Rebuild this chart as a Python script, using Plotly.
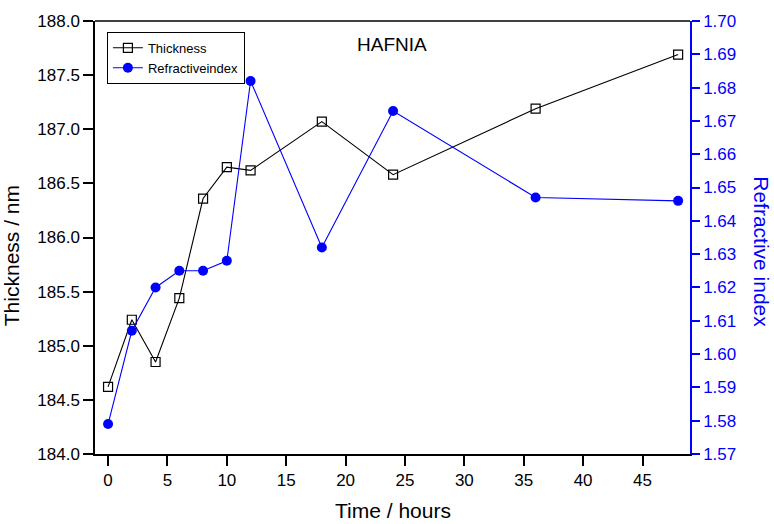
import plotly.graph_objects as go

# Hafnia film evolution over time
time_h = [0, 2, 4, 6, 8, 10, 12, 18, 24, 36, 48]
thickness_nm = [184.62, 185.24, 184.85, 185.44, 186.36, 186.65, 186.62, 187.07, 186.58, 187.19, 187.69]
refractive_index = [1.579, 1.607, 1.620, 1.625, 1.625, 1.628, 1.682, 1.632, 1.673, 1.647, 1.646]

x_ticks = [0, 5, 10, 15, 20, 25, 30, 35, 40, 45]
left_ticks = [184.0, 184.5, 185.0, 185.5, 186.0, 186.5, 187.0, 187.5, 188.0]
right_ticks = [1.57, 1.58, 1.59, 1.60, 1.61, 1.62, 1.63, 1.64, 1.65, 1.66, 1.67, 1.68, 1.69, 1.70]

FONT = "Liberation Sans, Arial, sans-serif"
BLUE = "#0000ff"
TICK_SIZE = 17
TITLE_SIZE = 21

fig = go.Figure()

fig.add_trace(go.Scatter(
    x=time_h, y=thickness_nm, name="Thickness",
    mode="lines+markers",
    line=dict(color="black", width=1.1),
    marker=dict(symbol="square-open", size=9, color="black", line=dict(width=1.2)),
    yaxis="y",
))

fig.add_trace(go.Scatter(
    x=time_h, y=refractive_index, name="Refractiveindex",
    mode="lines+markers",
    line=dict(color=BLUE, width=1.1),
    marker=dict(symbol="circle", size=10, color=BLUE),
    yaxis="y2",
))

fig.update_layout(
    width=774, height=524,
    margin=dict(l=95, r=84, t=16, b=70),
    paper_bgcolor="white", plot_bgcolor="white",
    font=dict(family=FONT, size=14, color="black"),
    showlegend=True,
    legend=dict(
        x=0.02, y=0.975, xanchor="left", yanchor="top",
        bgcolor="white", bordercolor="black", borderwidth=1,
        font=dict(family=FONT, size=13),
        tracegroupgap=0, itemwidth=30,
    ),
    xaxis=dict(
        range=[-1.1, 49.0],
        tickvals=x_ticks, ticktext=[str(v) for v in x_ticks],
        ticks="outside", ticklen=10, tickwidth=1.5, tickcolor="black",
        showline=True, linecolor="black", linewidth=1.5,
        showgrid=False, zeroline=False,
        tickfont=dict(family=FONT, size=TICK_SIZE),
    ),
    yaxis=dict(
        range=[184.0, 188.0],
        tickvals=left_ticks, ticktext=[f"{v:.1f}" for v in left_ticks],
        ticks="outside", ticklen=10, tickwidth=1.5, tickcolor="black",
        showline=True, linecolor="black", linewidth=1.5,
        showgrid=False, zeroline=False,
        tickfont=dict(family=FONT, size=TICK_SIZE),
    ),
    yaxis2=dict(
        range=[1.57, 1.70],
        overlaying="y", side="right",
        tickvals=right_ticks, ticktext=[f"{v:.2f}" for v in right_ticks],
        ticks="outside", ticklen=8, tickwidth=1.5, tickcolor=BLUE,
        showline=True, linecolor=BLUE, linewidth=1.5,
        showgrid=False, zeroline=False,
        tickfont=dict(family=FONT, size=TICK_SIZE, color=BLUE),
    ),
    shapes=[
        # top border of the frame
        dict(type="line", xref="paper", yref="paper", x0=0, x1=1, y0=1, y1=1,
             line=dict(color="black", width=1.5)),
    ],
    annotations=[
        dict(text="HAFNIA", xref="paper", yref="paper", x=0.499, y=0.945,
             xanchor="center", yanchor="middle", showarrow=False,
             font=dict(family=FONT, size=19)),
        dict(text="Time / hours", xref="paper", yref="paper", x=0.501, y=-0.130,
             xanchor="center", yanchor="middle", showarrow=False,
             font=dict(family=FONT, size=TITLE_SIZE)),
        dict(text="Thickness / nm", xref="paper", yref="paper", x=-0.141, y=0.457,
             xanchor="center", yanchor="middle", showarrow=False, textangle=-90,
             font=dict(family=FONT, size=TITLE_SIZE)),
        dict(text="Refractive index", xref="paper", yref="paper", x=1.121, y=0.466,
             xanchor="center", yanchor="middle", showarrow=False, textangle=90,
             font=dict(family=FONT, size=TITLE_SIZE, color=BLUE)),
    ],
)

fig.write_html("out.html")
